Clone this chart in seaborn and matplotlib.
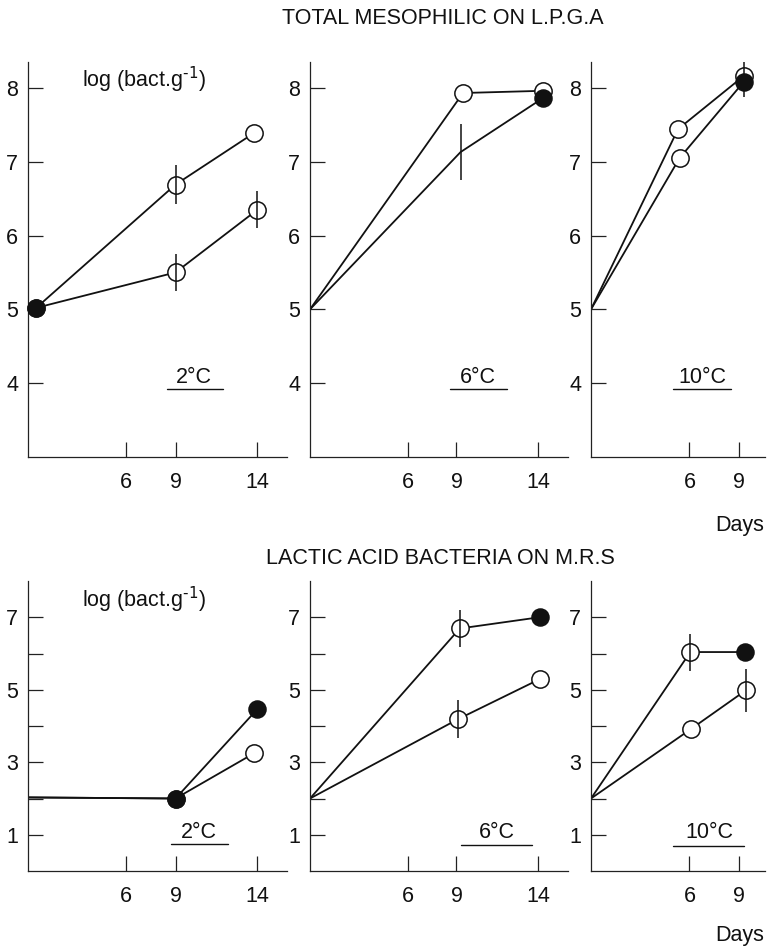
import matplotlib
matplotlib.use("Agg")
import matplotlib.pyplot as plt
import matplotlib.transforms as mtransforms
import seaborn as sns
import pandas as pd

sns.set_theme(style="ticks")
plt.rcParams["font.family"] = ["Liberation Sans", "DejaVu Sans"]
plt.rcParams["mathtext.default"] = "regular"

# ---------------- data ----------------
# marks: n = no marker, o = open circle, f = filled circle
# TOTAL MESOPHILIC ON L.P.G.A
tm2_a_days = [0.5, 9, 13.8]
tm2_a_vals = [5.02, 6.69, 7.39]
tm2_a_err = [0, 0.26, 0]
tm2_a_marks = ["f", "o", "o"]
tm2_b_days = [0.5, 9, 14]
tm2_b_vals = [5.02, 5.50, 6.35]
tm2_b_err = [0, 0.25, 0.25]
tm2_b_marks = ["f", "o", "o"]

tm6_a_days = [0, 9.4, 14.3]
tm6_a_vals = [5.0, 7.93, 7.96]
tm6_a_err = [0, 0, 0]
tm6_a_marks = ["n", "o", "o"]
tm6_b_days = [0, 9.25, 14.3]
tm6_b_vals = [5.0, 7.13, 7.86]
tm6_b_err = [0, 0.38, 0]
tm6_b_marks = ["n", "n", "f"]

tm10_a_days = [0, 5.3, 9.3]
tm10_a_vals = [5.0, 7.44, 8.16]
tm10_a_err = [0, 0, 0.29]
tm10_a_marks = ["n", "o", "o"]
tm10_b_days = [0, 5.4, 9.3]
tm10_b_vals = [5.0, 7.05, 8.08]
tm10_b_err = [0, 0, 0]
tm10_b_marks = ["n", "o", "f"]

# LACTIC ACID BACTERIA ON M.R.S
la2_a_days = [0, 9, 14]
la2_a_vals = [2.03, 2.0, 4.47]
la2_a_err = [0, 0, 0]
la2_a_marks = ["n", "f", "f"]
la2_b_days = [0, 9, 13.8]
la2_b_vals = [2.03, 2.0, 3.25]
la2_b_err = [0, 0, 0]
la2_b_marks = ["n", "f", "o"]

la6_a_days = [0, 9.2, 14.1]
la6_a_vals = [2.0, 6.69, 7.0]
la6_a_err = [0, 0.52, 0]
la6_a_marks = ["n", "o", "f"]
la6_b_days = [0, 9.1, 14.1]
la6_b_vals = [2.0, 4.19, 5.29]
la6_b_err = [0, 0.52, 0]
la6_b_marks = ["n", "o", "o"]

la10_a_days = [0, 6.05, 9.4]
la10_a_vals = [2.0, 6.04, 6.04]
la10_a_err = [0, 0.51, 0]
la10_a_marks = ["n", "o", "f"]
la10_b_days = [0, 6.1, 9.45]
la10_b_vals = [2.0, 3.92, 4.99]
la10_b_err = [0, 0, 0.59]
la10_b_marks = ["n", "o", "o"]

temps = ["2°C", "6°C", "10°C"]
top_title = "TOTAL MESOPHILIC ON L.P.G.A"
bottom_title = "LACTIC ACID BACTERIA ON M.R.S"
unit_label = r"log (bact.g$^{\text{-1}}$)"
x_ticks_long = [6, 9, 14]
x_ticks_short = [6, 9]
top_yticks = [4, 5, 6, 7, 8]
bottom_yticks = [1, 3, 5, 7]
bottom_yminor = [2, 4, 6]

top_panels = [
    [(tm2_a_days, tm2_a_vals, tm2_a_err, tm2_a_marks), (tm2_b_days, tm2_b_vals, tm2_b_err, tm2_b_marks)],
    [(tm6_a_days, tm6_a_vals, tm6_a_err, tm6_a_marks), (tm6_b_days, tm6_b_vals, tm6_b_err, tm6_b_marks)],
    [(tm10_a_days, tm10_a_vals, tm10_a_err, tm10_a_marks), (tm10_b_days, tm10_b_vals, tm10_b_err, tm10_b_marks)],
]
bottom_panels = [
    [(la2_a_days, la2_a_vals, la2_a_err, la2_a_marks), (la2_b_days, la2_b_vals, la2_b_err, la2_b_marks)],
    [(la6_a_days, la6_a_vals, la6_a_err, la6_a_marks), (la6_b_days, la6_b_vals, la6_b_err, la6_b_marks)],
    [(la10_a_days, la10_a_vals, la10_a_err, la10_a_marks), (la10_b_days, la10_b_vals, la10_b_err, la10_b_marks)],
]

# ---------------- layout ----------------
W, H = 767, 946
fig = plt.figure(figsize=(W / 100, H / 100), dpi=100)

cols_px = [(28, 259, 15.8), (310, 258, 15.85), (591, 174, 10.6)]  # left, width, xmax
rows_px = [(62, 457, (3, 8.35)), (581, 871, (0, 8))]

FS = 15.5


def make_ax(col, row):
    left, width, xmax = cols_px[col]
    top, bottom, ylim = rows_px[row]
    ax = fig.add_axes([left / W, 1 - bottom / H, width / W, (bottom - top) / H])
    ax.set_xlim(0, xmax)
    ax.set_ylim(*ylim)
    ax.set_facecolor("white")
    for s in ["top", "right"]:
        ax.spines[s].set_visible(False)
    for s in ["left", "bottom"]:
        ax.spines[s].set_linewidth(0.9)
        ax.spines[s].set_color("#222222")
    return ax


def draw_series(ax, series):
    for days, vals, errs, marks in series:
        df = pd.DataFrame({"day": days, "val": vals, "err": errs, "mark": marks})
        sns.lineplot(data=df, x="day", y="val", ax=ax, color="#111111", lw=1.3,
                     sort=False, estimator=None, zorder=2)
    # open markers first, filled on top
    for days, vals, errs, marks in series:
        df = pd.DataFrame({"day": days, "val": vals, "err": errs, "mark": marks})
        op = df[df["mark"] == "o"]
        if len(op):
            sns.scatterplot(data=op, x="day", y="val", ax=ax, marker="o", s=155,
                            facecolor="white", edgecolor="#111111", linewidth=1.1,
                            zorder=3, clip_on=False, legend=False)
    for days, vals, errs, marks in series:
        df = pd.DataFrame({"day": days, "val": vals, "err": errs, "mark": marks})
        fl = df[df["mark"] == "f"]
        if len(fl):
            sns.scatterplot(data=fl, x="day", y="val", ax=ax, marker="o", s=150,
                            color="#111111", edgecolor="#111111", linewidth=1.1,
                            zorder=4, clip_on=False, legend=False)
    for days, vals, errs, marks in series:
        df = pd.DataFrame({"day": days, "val": vals, "err": errs})
        eb = df[df["err"] > 0]
        if len(eb):
            ax.errorbar(eb["day"], eb["val"], yerr=eb["err"], fmt="none",
                        ecolor="#111111", elinewidth=1.1, capsize=0, zorder=5)
    ax.set_xlabel("")
    ax.set_ylabel("")


def temp_label(ax, text, xc, x0, x1, ytext, yline):
    tr = mtransforms.blended_transform_factory(ax.transAxes, ax.transData)
    ax.text(xc, ytext, text, transform=tr, ha="center", va="baseline", fontsize=FS, color="#111111")
    ax.axhline(yline, x0, x1, color="#111111", lw=1.0)


top_lab = [(0.642, 0.535, 0.754), (0.652, 0.541, 0.764), (0.64, 0.474, 0.806)]
bot_lab = [(0.658, 0.554, 0.773), (0.726, 0.587, 0.861), (0.68, 0.474, 0.88)]
bot_line_y = [0.75, 0.72, 0.70]

for c in range(3):
    # top row
    ax = make_ax(c, 0)
    draw_series(ax, top_panels[c])
    ax.set_xticks(x_ticks_long if c < 2 else x_ticks_short)
    ax.set_yticks(top_yticks)
    ax.tick_params(axis="both", direction="in", length=11, width=0.9, colors="#222222",
                   labelsize=FS, labelcolor="#111111")
    ax.tick_params(axis="y", pad=7)
    ax.tick_params(axis="x", pad=11)
    xc, x0, x1 = top_lab[c]
    temp_label(ax, temps[c], xc, x0, x1, 4.0, 3.92)
    if c == 0:
        ax.text(0.21, 8.01, unit_label, transform=mtransforms.blended_transform_factory(ax.transAxes, ax.transData),
                ha="left", va="baseline", fontsize=FS, color="#111111")

    # bottom row
    ax = make_ax(c, 1)
    draw_series(ax, bottom_panels[c])
    ax.set_xticks(x_ticks_long if c < 2 else x_ticks_short)
    ax.set_yticks(bottom_yticks)
    ax.set_yticks(bottom_yminor, minor=True)
    ax.tick_params(axis="both", which="both", direction="in", length=11, width=0.9,
                   colors="#222222", labelsize=FS, labelcolor="#111111")
    ax.tick_params(axis="y", pad=7)
    ax.tick_params(axis="x", pad=11)
    xc, x0, x1 = bot_lab[c]
    temp_label(ax, temps[c], xc, x0, x1, 0.9, bot_line_y[c])
    if c == 0:
        ax.text(0.21, 7.28, unit_label, transform=mtransforms.blended_transform_factory(ax.transAxes, ax.transData),
                ha="left", va="baseline", fontsize=FS, color="#111111")

fig.text(443 / W, 1 - 18 / H, top_title, ha="center", va="center", fontsize=FS, color="#111111")
fig.text(440 / W, 1 - 558 / H, bottom_title, ha="center", va="center", fontsize=FS, color="#111111")
fig.text(740 / W, 1 - 525 / H, "Days", ha="center", va="center", fontsize=FS, color="#111111")
fig.text(740 / W, 1 - 935 / H, "Days", ha="center", va="center", fontsize=FS, color="#111111")

fig.savefig("out.png", dpi=100, facecolor="white")
